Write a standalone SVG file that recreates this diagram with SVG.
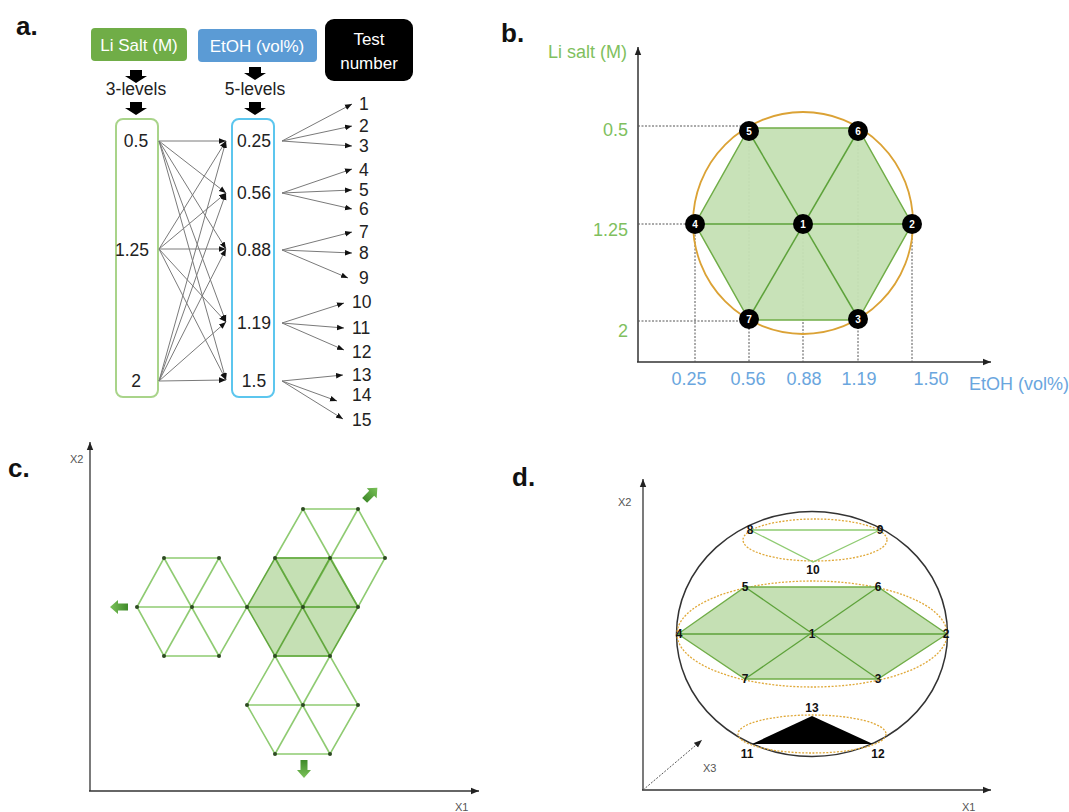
<svg xmlns="http://www.w3.org/2000/svg" width="1069" height="812" viewBox="0 0 1069 812">
<defs>
<style>
text{font-family:"Liberation Sans","Noto Sans",sans-serif}
.lbl{font-weight:bold;font-size:26px;fill:#111}
.t16{font-size:17.5px;fill:#222}
.wt{font-size:17px;fill:#fff}
.gr{stroke:#7a7a7a;stroke-width:1;fill:none}
.ga{font-size:18px;fill:#80bf5e}
.ba{font-size:18px;fill:#6aa6de}
.dash{stroke:#555;stroke-width:1;stroke-dasharray:2,1.5;fill:none}
.ax{stroke:#333;stroke-width:1.5;fill:none}
.nd{fill:#000}
.nt{font-size:10px;fill:#fff;font-weight:bold;text-anchor:middle}
.lat{stroke:#8fcb72;stroke-width:1.6;fill:none}
.latd{stroke:#62a83e;stroke-width:1.6;fill:none}
.dot{fill:#2d4a22}
.sm{font-size:11px;fill:#555}
.dl{font-size:12px;font-weight:bold;fill:#111;text-anchor:middle}
.od{stroke:#e0a93a;stroke-width:1.3;stroke-dasharray:2,1.5;fill:none}
</style>
<marker id="ah" viewBox="0 0 10 10" refX="10" refY="5" markerWidth="7" markerHeight="7" orient="auto" markerUnits="userSpaceOnUse"><path d="M0,1 L10,5 L0,9 Z" fill="#111"/></marker>
<marker id="axh" viewBox="0 0 10 10" refX="10" refY="5" markerWidth="8" markerHeight="8" orient="auto" markerUnits="userSpaceOnUse"><path d="M0,1 L10,5 L0,9 Z" fill="#222"/></marker>
<linearGradient id="gg" x1="0" y1="0" x2="0" y2="1"><stop offset="0" stop-color="#7cc35a"/><stop offset="1" stop-color="#3f8a2a"/></linearGradient>
<polygon id="garr" points="0,-9 7,-1 3.5,-1 3.5,9 -3.5,9 -3.5,-1 -7,-1" fill="url(#gg)"/>
<polygon id="barr" points="-6,0 6,0 6,6 11,6 0,13 -11,6 -6,6" fill="#000"/>
</defs>
<rect width="1069" height="812" fill="#fff"/>

<!-- Panel a -->
<g id="panel-a">
<text class="lbl" x="16" y="35">a.</text>
<g id="a-lisalt"><rect x="91" y="28" width="96" height="33" rx="4" fill="#70ad47"/><text class="wt" x="139" y="51" text-anchor="middle">Li Salt (M)</text></g>
<g id="a-etoh"><rect x="198" y="29" width="119" height="33" rx="4" fill="#5b9bd5"/><text class="wt" x="257" y="52" text-anchor="middle">EtOH (vol%)</text></g>
<g id="a-test"><rect x="325" y="19" width="88" height="62" rx="9" fill="#000"/><text class="wt" x="369" y="45" text-anchor="middle">Test</text><text class="wt" x="369" y="69" text-anchor="middle">number</text></g>
<g id="a-arrows-li"><use href="#barr" x="136" y="70"/><text class="t16" x="136" y="95" text-anchor="middle">3-levels</text><use href="#barr" x="136" y="102"/></g>
<g id="a-arrows-et"><use href="#barr" x="255" y="67"/><text class="t16" x="255" y="95" text-anchor="middle">5-levels</text><use href="#barr" x="255" y="102"/></g>
<g id="a-li-box"><rect x="116" y="119" width="42" height="278" rx="7" fill="none" stroke="#a9d48a" stroke-width="2"/>
<text class="t16" x="136" y="147" text-anchor="middle">0.5</text>
<text class="t16" x="132" y="256" text-anchor="middle">1.25</text>
<text class="t16" x="136" y="387" text-anchor="middle">2</text></g>
<g id="a-et-box"><rect x="232" y="119" width="42" height="278" rx="7" fill="none" stroke="#5cc6ee" stroke-width="2"/>
<text class="t16" x="254" y="147" text-anchor="middle">0.25</text>
<text class="t16" x="254" y="199" text-anchor="middle">0.56</text>
<text class="t16" x="254" y="256" text-anchor="middle">0.88</text>
<text class="t16" x="254" y="329" text-anchor="middle">1.19</text>
<text class="t16" x="254" y="387" text-anchor="middle">1.5</text></g>
<g id="a-connectors" class="gr" marker-end="url(#ah)">
<line x1="159" y1="141" x2="226" y2="141"/><line x1="159" y1="141" x2="226" y2="193"/><line x1="159" y1="141" x2="226" y2="249"/><line x1="159" y1="141" x2="226" y2="322"/><line x1="159" y1="141" x2="226" y2="380"/>
<line x1="159" y1="249" x2="226" y2="141"/><line x1="159" y1="249" x2="226" y2="193"/><line x1="159" y1="249" x2="226" y2="249"/><line x1="159" y1="249" x2="226" y2="322"/><line x1="159" y1="249" x2="226" y2="380"/>
<line x1="159" y1="381" x2="226" y2="141"/><line x1="159" y1="381" x2="226" y2="193"/><line x1="159" y1="381" x2="226" y2="249"/><line x1="159" y1="381" x2="226" y2="322"/><line x1="159" y1="381" x2="226" y2="380"/>
<line x1="282" y1="141" x2="352" y2="104"/><line x1="282" y1="141" x2="352" y2="126"/><line x1="282" y1="141" x2="352" y2="146"/>
<line x1="282" y1="193" x2="352" y2="169"/><line x1="282" y1="193" x2="352" y2="190"/><line x1="282" y1="193" x2="352" y2="209"/>
<line x1="282" y1="250" x2="352" y2="232"/><line x1="282" y1="250" x2="352" y2="253"/><line x1="282" y1="250" x2="348" y2="278"/>
<line x1="282" y1="323" x2="344" y2="303"/><line x1="282" y1="323" x2="344" y2="328"/><line x1="282" y1="323" x2="344" y2="350"/>
<line x1="282" y1="381" x2="343" y2="375"/><line x1="282" y1="381" x2="337" y2="401"/><line x1="282" y1="381" x2="343" y2="419"/>
</g>
<g id="a-tests" class="t16">
<text x="359" y="110">1</text><text x="359" y="132">2</text><text x="359" y="152">3</text>
<text x="359" y="176">4</text><text x="359" y="196">5</text><text x="359" y="215">6</text>
<text x="359" y="238">7</text><text x="359" y="259">8</text><text x="359" y="284">9</text>
<text x="352" y="308">10</text><text x="352" y="334">11</text><text x="352" y="358">12</text>
<text x="352" y="381">13</text><text x="352" y="401">14</text><text x="352" y="426">15</text>
</g>
</g>

<!-- Panel b -->
<g id="panel-b">
<text class="lbl" x="501" y="42">b.</text>
<text class="ga" x="627" y="58" text-anchor="end">Li salt (M)</text>
<g id="b-axes" class="ax"><line x1="638" y1="362" x2="638" y2="47" marker-end="url(#axh)"/><line x1="637" y1="362" x2="991" y2="362" marker-end="url(#axh)"/></g>
<text class="ga" x="628" y="136" text-anchor="end">0.5</text>
<text class="ga" x="628" y="236" text-anchor="end">1.25</text>
<text class="ga" x="628" y="337" text-anchor="end">2</text>
<g id="b-dash" class="dash">
<line x1="638" y1="126" x2="749" y2="126"/><line x1="638" y1="224" x2="695" y2="224"/><line x1="638" y1="321" x2="749" y2="321"/>
<line x1="695" y1="224" x2="695" y2="362"/><line x1="749" y1="132" x2="749" y2="362"/><line x1="803" y1="224" x2="803" y2="362"/><line x1="858" y1="131" x2="858" y2="362"/><line x1="912" y1="224" x2="912" y2="362"/>
</g>
<polygon points="749,128 858,128 912,224 858,320 749,320 695,224" fill="#c5e0b4" fill-opacity="0.95" stroke="#70ad47" stroke-width="1.5"/>
<g stroke="#5da23a" stroke-width="1.5" fill="none">
<line x1="695" y1="224" x2="912" y2="224"/><line x1="749" y1="132" x2="858" y2="318"/><line x1="858" y1="131" x2="749" y2="318"/>
</g>
<ellipse cx="803" cy="223" rx="110" ry="111" fill="none" stroke="#dba235" stroke-width="1.8"/>
<g id="b-nodes">
<g id="b-n5"><circle class="nd" cx="749" cy="131" r="10"/><text class="nt" x="749" y="135">5</text></g>
<g id="b-n6"><circle class="nd" cx="858" cy="131" r="10"/><text class="nt" x="858" y="135">6</text></g>
<g id="b-n4"><circle class="nd" cx="695" cy="224" r="10"/><text class="nt" x="695" y="228">4</text></g>
<g id="b-n1"><circle class="nd" cx="803" cy="224" r="10"/><text class="nt" x="803" y="228">1</text></g>
<g id="b-n2"><circle class="nd" cx="912" cy="224" r="10"/><text class="nt" x="912" y="228">2</text></g>
<g id="b-n7"><circle class="nd" cx="749" cy="319" r="10"/><text class="nt" x="749" y="323">7</text></g>
<g id="b-n3"><circle class="nd" cx="858" cy="319" r="10"/><text class="nt" x="858" y="323">3</text></g>
</g>
<text class="ba" x="689" y="385" text-anchor="middle">0.25</text>
<text class="ba" x="748" y="385" text-anchor="middle">0.56</text>
<text class="ba" x="804" y="385" text-anchor="middle">0.88</text>
<text class="ba" x="859" y="385" text-anchor="middle">1.19</text>
<text class="ba" x="931" y="385" text-anchor="middle">1.50</text>
<text class="ba" x="969" y="390">EtOH (vol%)</text>
</g>

<!-- Panel c -->
<g id="panel-c">
<text class="lbl" x="8" y="477">c.</text>
<text class="sm" x="70" y="463">X2</text>
<text class="sm" x="455" y="811">X1</text>
<g id="c-axes" class="ax" style="stroke-width:1.3"><line x1="90" y1="791" x2="90" y2="442" marker-end="url(#axh)"/><line x1="89" y1="791" x2="479" y2="791" marker-end="url(#axh)"/></g>
<polygon points="247,607 275,558 330,558 358,607 330,656 275,656" fill="#c5e0b4"/>
<g id="c-lattice" class="lat">
<polygon points="137,607 164,558 219,558 247,607 219,656 164,656"/>
<line x1="137" y1="607" x2="247" y2="607"/><line x1="164" y1="558" x2="219" y2="656"/><line x1="219" y1="558" x2="164" y2="656"/>
<polygon points="275,558 303,509 358,509 385,558 358,607 303,607"/>
<line x1="275" y1="558" x2="385" y2="558"/><line x1="303" y1="509" x2="358" y2="607"/><line x1="358" y1="509" x2="303" y2="607"/>
<polygon points="247,705 275,656 330,656 358,705 330,754 275,754"/>
<line x1="247" y1="705" x2="358" y2="705"/><line x1="275" y1="656" x2="330" y2="754"/><line x1="330" y1="656" x2="275" y2="754"/>
</g>
<g id="c-center" class="latd">
<polygon points="247,607 275,558 330,558 358,607 330,656 275,656"/>
<line x1="247" y1="607" x2="358" y2="607"/><line x1="275" y1="558" x2="330" y2="656"/><line x1="330" y1="558" x2="275" y2="656"/>
</g>
<g id="c-dots" class="dot">
<circle cx="137" cy="607" r="2"/><circle cx="164" cy="558" r="2"/><circle cx="219" cy="558" r="2"/><circle cx="247" cy="607" r="2"/><circle cx="219" cy="656" r="2"/><circle cx="164" cy="656" r="2"/><circle cx="192" cy="607" r="2"/>
<circle cx="275" cy="558" r="2"/><circle cx="330" cy="558" r="2"/><circle cx="358" cy="607" r="2"/><circle cx="330" cy="656" r="2"/><circle cx="275" cy="656" r="2"/><circle cx="303" cy="607" r="2"/>
<circle cx="303" cy="509" r="2"/><circle cx="358" cy="509" r="2"/><circle cx="385" cy="558" r="2"/>
<circle cx="247" cy="705" r="2"/><circle cx="358" cy="705" r="2"/><circle cx="275" cy="754" r="2"/><circle cx="330" cy="754" r="2"/><circle cx="303" cy="705" r="2"/>
</g>
<g id="c-arrows">
<use href="#garr" transform="translate(119,607) rotate(-90)"/>
<use href="#garr" transform="translate(371,494) rotate(45)"/>
<use href="#garr" transform="translate(304,769) rotate(180)"/>
</g>
</g>

<!-- Panel d -->
<g id="panel-d">
<text class="lbl" x="512" y="486">d.</text>
<text class="sm" x="618" y="506">X2</text>
<text class="sm" x="703" y="772">X3</text>
<text class="sm" x="962" y="811">X1</text>
<g id="d-axes" class="ax" style="stroke-width:1.3"><line x1="643" y1="790" x2="643" y2="479" marker-end="url(#axh)"/><line x1="642" y1="790" x2="991" y2="790" marker-end="url(#axh)"/></g>
<line x1="643" y1="790" x2="702" y2="740" class="dash" marker-end="url(#axh)"/>
<ellipse cx="812" cy="634" rx="135.5" ry="122.5" fill="none" stroke="#333" stroke-width="1.5"/>
<ellipse class="od" cx="815" cy="540" rx="72" ry="21"/>
<ellipse class="od" cx="812" cy="634" rx="135" ry="53"/>
<ellipse class="od" cx="812" cy="734" rx="74" ry="19"/>
<polygon points="678,634 745,587 878,587 947,634 878,679 745,679" fill="#c5e0b4" stroke="#70ad47" stroke-width="1.3"/>
<g stroke="#5da23a" stroke-width="1.3">
<line x1="678" y1="634" x2="947" y2="634"/><line x1="745" y1="587" x2="878" y2="679"/><line x1="878" y1="587" x2="745" y2="679"/>
</g>
<polygon points="750,530 880,530 813,562" fill="none" stroke="#8fcb72" stroke-width="1.3"/>
<polygon points="752,744 873,744 812,716" fill="#000"/>
<g id="d-labels">
<text class="dl" x="750" y="534">8</text><text class="dl" x="880" y="534">9</text><text class="dl" x="813" y="574">10</text>
<text class="dl" x="745" y="591">5</text><text class="dl" x="878" y="591">6</text>
<text class="dl" x="679" y="638">4</text><text class="dl" x="812" y="638">1</text><text class="dl" x="946" y="638">2</text>
<text class="dl" x="745" y="683">7</text><text class="dl" x="878" y="683">3</text>
<text class="dl" x="812" y="712">13</text><text class="dl" x="747" y="758">11</text><text class="dl" x="878" y="758">12</text>
</g>
</g>
</svg>
